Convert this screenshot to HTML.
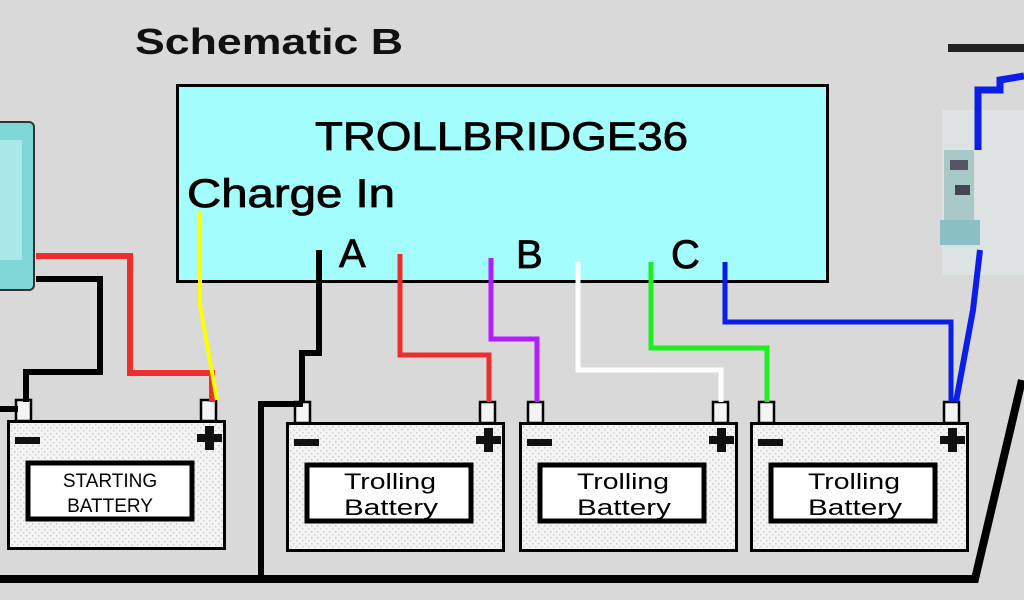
<!DOCTYPE html>
<html><head><meta charset="utf-8"><style>
html,body{margin:0;padding:0;background:#d9d9d9;}
svg{display:block;}
text{font-family:"Liberation Sans",sans-serif;}
</style></head><body>
<svg width="1024" height="600" viewBox="0 0 1024 600" xmlns="http://www.w3.org/2000/svg">
<defs>
<pattern id="dots" width="6" height="6" patternUnits="userSpaceOnUse">
<rect width="6" height="6" fill="#f4f4f4"/><rect x="1" y="1" width="1.5" height="1.5" fill="#c8c8c8"/><rect x="4" y="4" width="1.5" height="1.5" fill="#d0d0d0"/>
</pattern>
<g id="bat">
<rect x="9" y="-20" width="15" height="21" fill="#f4f4f4" stroke="#000" stroke-width="2.5"/>
<rect x="194" y="-20" width="15" height="21" fill="#f4f4f4" stroke="#000" stroke-width="2.5"/>
<rect x="1.5" y="1.5" width="216" height="127" fill="url(#dots)" stroke="#000" stroke-width="3"/>
<rect x="8" y="17" width="25" height="7" fill="#111"/>
<rect x="190" y="14" width="25" height="8" fill="#111"/><rect x="198" y="6" width="9" height="24" fill="#111"/>
<rect x="21" y="43" width="164" height="56" fill="#fff" stroke="#000" stroke-width="5"/>
</g>
</defs>
<rect width="1024" height="600" fill="#d9d9d9"/>
<text x="135" y="54" font-size="36" font-weight="bold" fill="#111" textLength="268" lengthAdjust="spacingAndGlyphs">Schematic B</text>
<!-- left charger -->
<rect x="-6" y="122" width="40" height="168" rx="5" fill="#7fd6d6" stroke="#333" stroke-width="2"/>
<rect x="0" y="140" width="22" height="120" fill="#a8eaea"/>
<!-- right breaker -->
<rect x="948" y="44" width="76" height="8" fill="#222"/>
<rect x="942" y="110" width="82" height="165" fill="#dde2e2"/>
<rect x="944" y="150" width="30" height="90" fill="#a9c8c8"/>
<rect x="950" y="160" width="18" height="10" fill="#556"/>
<rect x="955" y="185" width="15" height="10" fill="#445"/>
<rect x="940" y="220" width="40" height="25" fill="#8ac0c2"/>
<!-- main box -->
<rect x="177.5" y="85.5" width="650" height="196" fill="#a3fdfd" stroke="#000" stroke-width="3"/>
<g fill="#000" stroke="#000" stroke-width="0.8">
<text x="315" y="150" font-size="40" textLength="373" lengthAdjust="spacingAndGlyphs">TROLLBRIDGE36</text>
<text x="187" y="207" font-size="40" textLength="208" lengthAdjust="spacingAndGlyphs">Charge In</text>
<text x="339" y="267" font-size="40">A</text>
<text x="516" y="268" font-size="40">B</text>
<text x="671" y="268" font-size="40">C</text>
</g>
<!-- batteries -->
<use href="#bat" x="7" y="420"/>
<use href="#bat" x="286" y="422"/>
<use href="#bat" x="519" y="422"/>
<use href="#bat" x="750" y="422"/>
<g font-family="Liberation Mono,monospace" font-size="19" text-anchor="middle" fill="#000">
<text x="110" y="487">STARTING</text><text x="110" y="512">BATTERY</text>
</g>
<g font-family="Liberation Sans,sans-serif" font-size="22" fill="#000">
<text x="344" y="489" textLength="92" lengthAdjust="spacingAndGlyphs">Trolling</text><text x="344" y="515" textLength="94" lengthAdjust="spacingAndGlyphs">Battery</text>
<text x="577" y="489" textLength="92" lengthAdjust="spacingAndGlyphs">Trolling</text><text x="577" y="515" textLength="94" lengthAdjust="spacingAndGlyphs">Battery</text>
<text x="808" y="489" textLength="92" lengthAdjust="spacingAndGlyphs">Trolling</text><text x="808" y="515" textLength="94" lengthAdjust="spacingAndGlyphs">Battery</text>
</g>
<!-- wires -->
<g fill="none" stroke-width="6" stroke-linejoin="miter">
<polyline points="36,256 130,256 130,373 212,373 212,402" stroke="#ee2d2d"/>
<polyline points="36,279 100,279 100,372 26,372 26,402" stroke="#000"/>
<polyline points="0,409 18,409" stroke="#000"/>
<polyline points="200,212 200,305 217,400" stroke="#ffff00" stroke-width="4"/>
<polyline points="319,250 319,353 302,353 302,402" stroke="#000"/>
<polyline points="400,254 400,355 489,355 489,402" stroke="#ee2d2d" stroke-width="5"/>
<polyline points="491,258 491,339 537,339 537,402" stroke="#b020ff" stroke-width="5"/>
<polyline points="578,262 578,370 721,370 721,402" stroke="#ffffff" stroke-width="5"/>
<polyline points="651,262 651,348 767,348 767,402" stroke="#20ee20" stroke-width="5"/>
<polyline points="725,262 725,322 951,322 951,402" stroke="#0a1ee8" stroke-width="5"/>
<polyline points="980,250 973,310 956,402" stroke="#0a1ee8" stroke-width="6"/>
<polyline points="978,150 978,90 1000,90 1000,80 1024,76" stroke="#0a1ee8" stroke-width="7"/>
<polyline points="0,579 975,579 1022,380" stroke="#000" stroke-width="8"/>
<polyline points="303,404 261,404 261,579" stroke="#000" stroke-width="6"/>
</g>
</svg>
</body></html>
